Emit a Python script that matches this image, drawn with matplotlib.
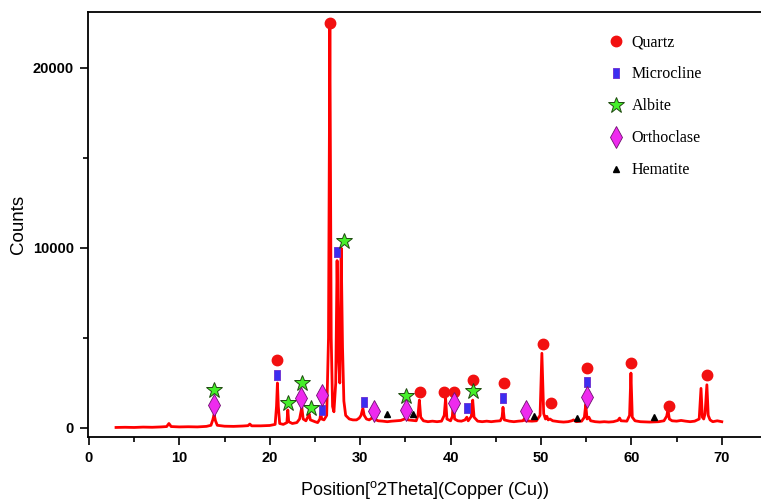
import matplotlib
matplotlib.use("Agg")
import matplotlib.pyplot as plt
from matplotlib.ticker import MultipleLocator

# ---- data ----
profile_x = [3.0, 4.0, 5.0, 6.0, 7.0, 8.0, 8.6, 8.85, 9.1, 10.0, 11.0, 12.0, 13.0, 13.5, 13.7, 13.85, 14.0, 14.2,
             15.0, 16.0, 17.0, 17.6, 17.8, 18.0, 19.0, 20.0, 20.6, 20.75, 20.85, 20.95, 21.1, 21.5, 21.9, 22.0, 22.1,
             22.5, 23.0, 23.3, 23.55, 23.7, 24.0, 24.2, 24.35, 24.5, 25.0, 25.3, 25.55, 25.65, 25.75, 26.0, 26.3,
             26.5, 26.65, 26.8, 26.95, 27.1, 27.3, 27.45, 27.6, 27.75, 27.9, 28.05, 28.2, 28.4, 28.8, 29.2, 29.6,
             29.9, 30.1, 30.3, 30.45, 30.7, 31.0, 31.3, 31.45, 31.6, 32.0, 32.5, 33.0, 33.5, 34.0, 34.5, 34.9, 35.1,
             35.3, 35.8, 36.2, 36.4, 36.55, 36.7, 37.0, 37.5, 38.0, 38.5, 39.0, 39.3, 39.45, 39.6, 40.0, 40.2, 40.3,
             40.45, 40.8, 41.2, 41.6, 41.8, 41.95, 42.3, 42.45, 42.6, 43.0, 43.5, 44.0, 44.5, 45.0, 45.5, 45.7, 45.8,
             45.95, 46.5, 47.0, 47.5, 48.0, 48.15, 48.3, 49.0, 49.5, 49.9, 50.1, 50.3, 50.5, 50.65, 50.8, 51.0, 51.3,
             52.0, 52.5, 53.0, 53.4, 53.6, 53.9, 54.5, 54.8, 54.95, 55.1, 55.3, 55.5, 56.0, 56.5, 57.0, 57.5, 58.0,
             58.5, 58.7, 58.85, 59.5, 59.8, 59.95, 60.1, 60.4, 61.0, 62.0, 63.0, 63.6, 63.9, 64.05, 64.2, 64.5, 65.0,
             65.5, 66.0, 66.5, 67.0, 67.5, 67.7, 67.85, 68.0, 68.15, 68.35, 68.5, 68.7, 69.0, 69.5, 70.0]
profile_y = [30, 40, 30, 50, 40, 60, 80, 250, 80, 60, 70, 60, 90, 150, 450, 750, 400, 150,
             100, 90, 110, 130, 220, 120, 120, 140, 200, 1200, 2500, 1200, 250, 200, 300, 1000, 350,
             250, 300, 500, 1150, 500, 400, 600, 800, 450, 350, 300, 500, 830, 500, 450, 700,
             5000, 22300, 5000, 1200, 900, 2500, 9300, 4000, 2500, 10000, 4500, 1500, 700, 500, 450, 450,
             550, 700, 1100, 700, 500, 450, 550, 750, 480, 400, 380, 350, 380, 400, 420, 500, 550,
             450, 420, 400, 700, 1550, 600, 400, 350, 380, 350, 380, 700, 1650, 500, 400, 650, 1450,
             500, 400, 380, 450, 600, 400, 650, 1550, 600, 380, 350, 380, 350, 380, 400, 600, 1150,
             450, 380, 350, 380, 400, 500, 400, 380, 400, 700, 4150, 800, 500, 650, 450, 500, 400,
             350, 330, 350, 400, 450, 350, 380, 600, 1300, 500, 600, 400, 350, 330, 350, 330, 350,
             420, 550, 400, 380, 700, 3050, 600, 400, 350, 330, 350, 400, 650, 1000, 500, 400, 380,
             420, 380, 350, 380, 500, 2200, 600, 500, 800, 2400, 700, 450, 350, 400, 350]

quartz_x = [20.85, 26.65, 36.6, 39.3, 40.4, 42.5, 45.9, 50.2, 51.1, 55.1, 60.0, 64.2, 68.4]
quartz_y = [3780, 22500, 2000, 2000, 2000, 2670, 2500, 4670, 1390, 3330, 3610, 1220, 2940]

microcline_x = [20.85, 25.8, 27.4, 30.4, 41.8, 45.8, 55.1]
microcline_y = [2940, 1000, 9780, 1440, 1110, 1670, 2550]

albite_x = [13.8, 22.0, 23.6, 24.6, 28.2, 35.1, 42.5]
albite_y = [2110, 1390, 2500, 1110, 10400, 1780, 2060]

orthoclase_x = [13.8, 23.5, 25.8, 31.5, 35.1, 40.4, 48.3, 55.1]
orthoclase_y = [1280, 1670, 1830, 940, 1000, 1390, 940, 1720]

hematite_x = [33.0, 35.8, 49.2, 54.0, 62.5]
hematite_y = [780, 780, 670, 550, 610]

x_ticks = [0, 10, 20, 30, 40, 50, 60, 70]
y_ticks = [0, 10000, 20000]

# ---- plotting ----
plt.rcParams['mathtext.fontset'] = 'custom'
plt.rcParams['mathtext.rm'] = 'Liberation Sans'

fig = plt.figure(figsize=(7.61, 5.01), dpi=100)
ax = fig.add_axes([88 / 761, 64 / 501, 1 - 88 / 761, (437 - 12) / 501])

ax.plot(profile_x, profile_y, color='#ff0000', lw=2.0, zorder=2)

rect = [(-0.5, -1), (0.5, -1), (0.5, 1), (-0.5, 1), (-0.5, -1)]
hq, = ax.plot(quartz_x, quartz_y, ls='none', marker='o', ms=7.5, mfc='#f21010', mec='#f21010', label='Quartz', zorder=3)
hm, = ax.plot(microcline_x, microcline_y, ls='none', marker=rect, ms=7.5, mfc='#3b2ef0', mec='#6a2ad0', mew=0.6, label='Microcline', zorder=3)
ha, = ax.plot(albite_x, albite_y, ls='none', marker='*', ms=12, mfc='#45ef2a', mec='#1f4a10', mew=0.7, label='Albite', zorder=3)
ho, = ax.plot(orthoclase_x, orthoclase_y, ls='none', marker='d', ms=11, mfc='#ee2aee', mec='#701070', mew=0.6, label='Orthoclase', zorder=3)
hh, = ax.plot(hematite_x, hematite_y, ls='none', marker='^', ms=5, mfc='black', mec='black', label='Hematite', zorder=3)

ax.set_xlim(-0.1, (761 - 89) / 9.04)
ax.set_ylim(-500, 23110)
ax.set_xticks(x_ticks)
ax.set_yticks(y_ticks)
ax.xaxis.set_minor_locator(MultipleLocator(5))
ax.yaxis.set_minor_locator(MultipleLocator(5000))
ax.tick_params(which='major', direction='out', length=6, width=1.2, pad=4)
ax.tick_params(which='minor', direction='out', length=3.5, width=1.2)
for lab in ax.get_xticklabels() + ax.get_yticklabels():
    lab.set_fontfamily('Liberation Sans')
    lab.set_fontweight('bold')
    lab.set_fontsize(10.5)

for side in ['left', 'bottom', 'top']:
    ax.spines[side].set_linewidth(1.3)
ax.spines['right'].set_visible(False)

ax.set_xlabel('Position[$^{\\rm o}$2Theta](Copper (Cu))', fontfamily='Liberation Sans', fontsize=13, labelpad=10)
ax.set_ylabel('Counts', fontfamily='Liberation Sans', fontsize=13.5, labelpad=4)

leg = ax.legend(handles=[hq, hm, ha, ho, hh], loc='upper left', bbox_to_anchor=(594 / 761, 1 - 20 / 501),
                bbox_transform=fig.transFigure, frameon=False, prop={'family': 'Liberation Serif', 'size': 11.5},
                labelspacing=1.0, handlelength=1.0, handletextpad=0.45)

fig.savefig('out.png', dpi=100)
